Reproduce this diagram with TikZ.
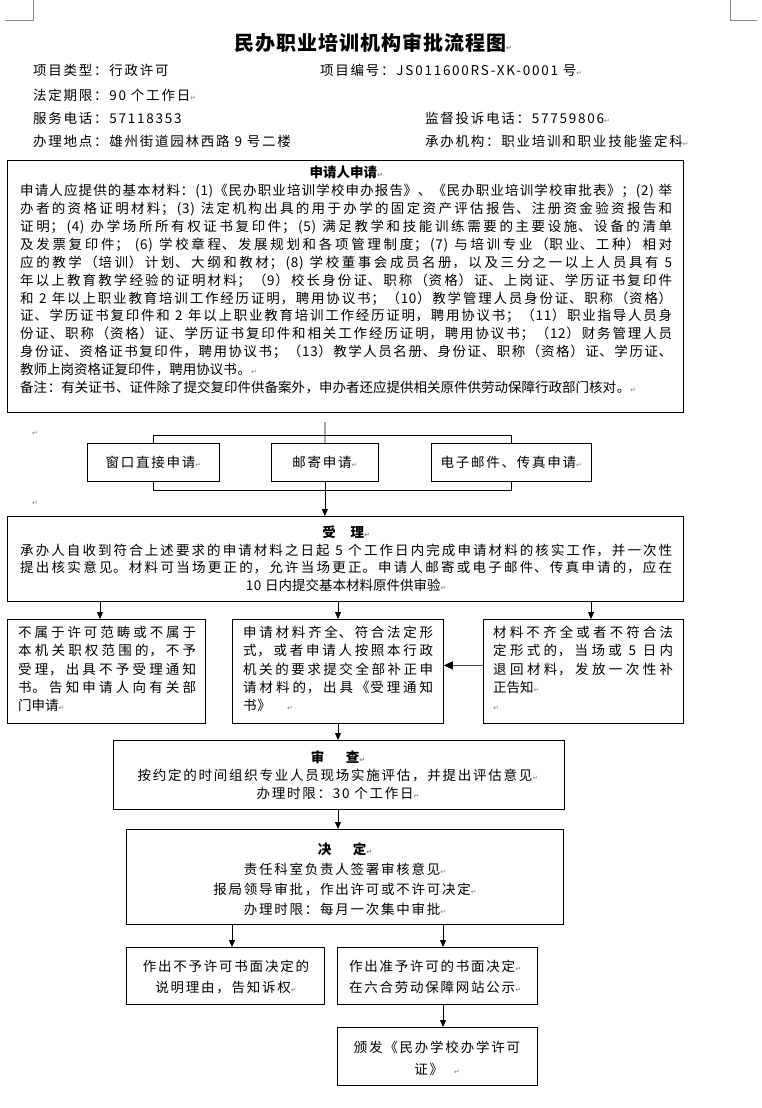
\documentclass[tikz,border=0pt]{standalone}
\usepackage{fontspec}
\setmainfont{Noto Sans CJK SC}[LetterSpace=5]
\newfontfamily\wide{Noto Sans CJK SC}[LetterSpace=13]
\newfontfamily\dejavu{DejaVu Sans}
\usetikzlibrary{arrows.meta,calc}
\XeTeXlinebreaklocale "zh"
\XeTeXlinebreakskip=0pt plus 2pt
\tolerance=9999
\pretolerance=-1
\hbadness=10000
\hfuzz=20pt
\newcommand\rt{{\dejavu\fontsize{7}{7}\selectfont\color{gray}↵}}
\newcommand\bodyf{\fontsize{13.5}{17.9}\selectfont}
\newcommand\acceptf{\fontsize{13.5}{17.5}\selectfont}
\newcommand\boxf{\fontsize{13.5}{18.3}\selectfont}
\begin{document}
\begin{tikzpicture}[x=1pt,y=-1pt,
  box/.style={draw,line width=0.8pt,inner sep=0pt,anchor=north west,font=\wide\fontsize{13.5}{16}\selectfont},
  arr/.style={line width=0.8pt,-{Triangle[length=7pt,width=6pt]}},
  bigarr/.style={line width=1pt,draw=black!70,-{Triangle[length=9pt,width=8pt,color=black]}},
  ln/.style={line width=0.8pt},
  txt/.style={inner sep=0pt},
  head/.style={inner sep=0pt,anchor=west,font=\wide\fontsize{13.5}{16}\selectfont},
  corner/.style={line width=0.6pt,draw=black!45},
]
\fill[white] (0,0) rectangle (762,1108);
\useasboundingbox (0,0) rectangle (762,1108);

% corner marks
\draw[corner] (33,0) -- (33,20) -- (5,20);
\draw[corner] (730,0) -- (730,20) -- (757,20);

% title and header
\node[txt,font=\fontsize{20}{24}\selectfont\bfseries] (title) at (373,43) {民办职业培训机构审批流程图\rt};
\node[head] (h1) at (33,70) {项目类型：行政许可};
\node[head] (h2) at (320,70) {项目编号：JS011600RS-XK-0001 号\rt};
\node[head] (h3) at (33,95) {法定期限：90 个工作日\rt};
\node[head] (h4) at (33,118) {服务电话：57118353};
\node[head] (h5) at (425,118) {监督投诉电话：57759806\rt};
\node[head] (h6) at (33,141) {办理地点：雄州街道园林西路 9 号二楼};
\node[head] (h7) at (425,141) {承办机构：职业培训和职业技能鉴定科\rt};

% application box
\node[box,minimum width=676pt,minimum height=252pt] (apply) at (7,160) {};
\node[txt,anchor=north west,text width=652pt,align=justify,font=\bodyf] (applytxt) at (20,166) {%
{\centering\bfseries 申请人申请\rt\par}%
申请人应提供的基本材料：(1)《民办职业培训学校申办报告》、《民办职业培训学校审批表》；(2) 举\linebreak
办者的资格证明材料；(3) 法定机构出具的用于办学的固定资产评估报告、注册资金验资报告和\linebreak
证明；(4) 办学场所所有权证书复印件；(5) 满足教学和技能训练需要的主要设施、设备的清单\linebreak
及发票复印件； (6) 学校章程、发展规划和各项管理制度；(7) 与培训专业（职业、工种）相对\linebreak
应的教学（培训）计划、大纲和教材；(8) 学校董事会成员名册，以及三分之一以上人员具有 5\linebreak
年以上教育教学经验的证明材料；（9）校长身份证、职称（资格）证、上岗证、学历证书复印件\linebreak
和 2 年以上职业教育培训工作经历证明，聘用协议书；（10）教学管理人员身份证、职称（资格）\linebreak
证、学历证书复印件和 2 年以上职业教育培训工作经历证明，聘用协议书；（11）职业指导人员身\linebreak
份证、职称（资格）证、学历证书复印件和相关工作经历证明，聘用协议书；（12）财务管理人员\linebreak
身份证、资格证书复印件，聘用协议书；（13）教学人员名册、身份证、职称（资格）证、学历证、\linebreak
教师上岗资格证复印件，聘用协议书。\rt\par
备注：有关证书、证件除了提交复印件供备案外，申办者还应提供相关原件供劳动保障行政部门核对。\rt};

% stray paragraph marks
\node[txt] (pm1) at (35,433) {\rt};
\node[txt] (pm2) at (35,503) {\rt};

% three application ways
\node[box,minimum width=132pt,minimum height=38pt] (window) at (87,443) {窗口直接申请\rt};
\node[box,minimum width=107pt,minimum height=38pt] (mail) at (271,443) {邮寄申请\rt};
\node[box,minimum width=160pt,minimum height=38pt] (email) at (431,443) {电子邮件、传真申请\rt};
\coordinate (top) at (325,422);
\draw[ln] (top) -- (mail.north);
\draw[ln] (window.north) -- ++(0,-8) -| (email.north);
\draw[ln] (window.south) -- ++(0,9) -| (email.south);

% acceptance
\node[box,minimum width=676pt,minimum height=85pt] (accept) at (7,516) {};
\draw[arr] (mail.south) -- (mail.south |- accept.north);
\node[txt,anchor=north west,text width=652pt,align=justify,font=\acceptf] (accepttxt) at (20,526) {%
{\centering\bfseries 受\hspace{1.1em}理\rt\par}%
{\leftskip=0pt plus 1fil\rightskip=0pt plus -1fil\parfillskip=0pt plus 2fil
承办人自收到符合上述要求的申请材料之日起 5 个工作日内完成申请材料的核实工作，并一次性\linebreak
提出核实意见。材料可当场更正的，允许当场更正。申请人邮寄或电子邮件、传真申请的，应在\linebreak
10 日内提交基本材料原件供审验\rt\par}};

% three outcomes
\node[box,minimum width=198pt,minimum height=104pt] (lbox) at (7,619) {};
\node[box,minimum width=211pt,minimum height=104pt] (mbox) at (232,619) {};
\node[box,minimum width=200pt,minimum height=104pt] (rbox) at (483,619) {};
\node[txt,anchor=north west,text width=178pt,align=justify,font=\boxf] (ltxt) at (18,626) {%
不属于许可范畴或不属于\linebreak
本机关职权范围的，不予\linebreak
受理，出具不予受理通知\linebreak
书。告知申请人向有关部\linebreak
门申请\rt};
\node[txt,anchor=north west,text width=190pt,align=justify,font=\boxf] (mtxt) at (243,626) {%
申请材料齐全、符合法定形\linebreak
式，或者申请人按照本行政\linebreak
机关的要求提交全部补正申\linebreak
请材料的，出具《受理通知\linebreak
书》\hspace{1.2em}\rt};
\node[txt,anchor=north west,text width=180pt,align=justify,font=\boxf] (rtxt) at (493,626) {%
材料不齐全或者不符合法\linebreak
定形式的，当场或 5 日内\linebreak
退回材料，发放一次性补\linebreak
正告知\rt\par
\rt};
\draw[arr] (accept.south -| 100,0) -- (lbox.north -| 100,0);
\draw[arr] (accept.south -| 338,0) -- (mbox.north -| 338,0);
\draw[arr] (accept.south -| 591,0) -- (rbox.north -| 591,0);
\draw[bigarr] ([yshift=6pt]rbox.west) -- ([yshift=6pt]rbox.west -| mbox.east);

% review
\node[box,minimum width=451pt,minimum height=69pt] (review) at (113,740) {};
\node[txt,anchor=north,align=center,font=\wide\fontsize{13.5}{18}\selectfont] (reviewtxt) at (338,751) {%
{\bfseries 审\hspace{1.6em}查\rt}\\
按约定的时间组织专业人员现场实施评估，并提出评估意见\rt\\
办理时限：30 个工作日\rt};
\draw[arr] (mbox.south -| 338,0) -- (review.north -| 338,0);

% decision
\node[box,minimum width=437pt,minimum height=95pt] (decide) at (126,829) {};
\node[txt,anchor=north,align=center,font=\wide\fontsize{13.5}{20}\selectfont] (decidetxt) at (345,843) {%
{\bfseries 决\hspace{1.6em}定\rt}\\
责任科室负责人签署审核意见\rt\\
报局领导审批，作出许可或不许可决定\rt\\
办理时限：每月一次集中审批\rt};
\draw[arr] (review.south -| 338,0) -- (decide.north -| 338,0);

% results
\node[box,minimum width=198pt,minimum height=57pt] (deny) at (126,947) {};
\node[box,minimum width=200pt,minimum height=57pt] (grant) at (337,947) {};
\node[box,minimum width=200pt,minimum height=58pt] (issue) at (337,1027) {};
\node[txt,anchor=north,align=center,font=\wide\fontsize{13.5}{21}\selectfont] (denytxt) at (226,960) {%
作出不予许可书面决定的\\
说明理由，告知诉权\rt};
\node[txt,anchor=north west,align=left,font=\wide\fontsize{13.5}{21}\selectfont] (granttxt) at (349,960) {%
作出准予许可的书面决定\rt\\
在六合劳动保障网站公示\rt};
\node[txt,anchor=north,align=center,font=\wide\fontsize{13.5}{22}\selectfont] (issuetxt) at (437,1041) {%
颁发《民办学校办学许可\\
证》\hspace{0.8em}\rt};
\draw[arr] (decide.south -| 232,0) -- (deny.north -| 232,0);
\draw[arr] (decide.south -| 443,0) -- (grant.north -| 443,0);
\draw[arr] (grant.south -| 443,0) -- (issue.north -| 443,0);
\end{tikzpicture}
\end{document}
